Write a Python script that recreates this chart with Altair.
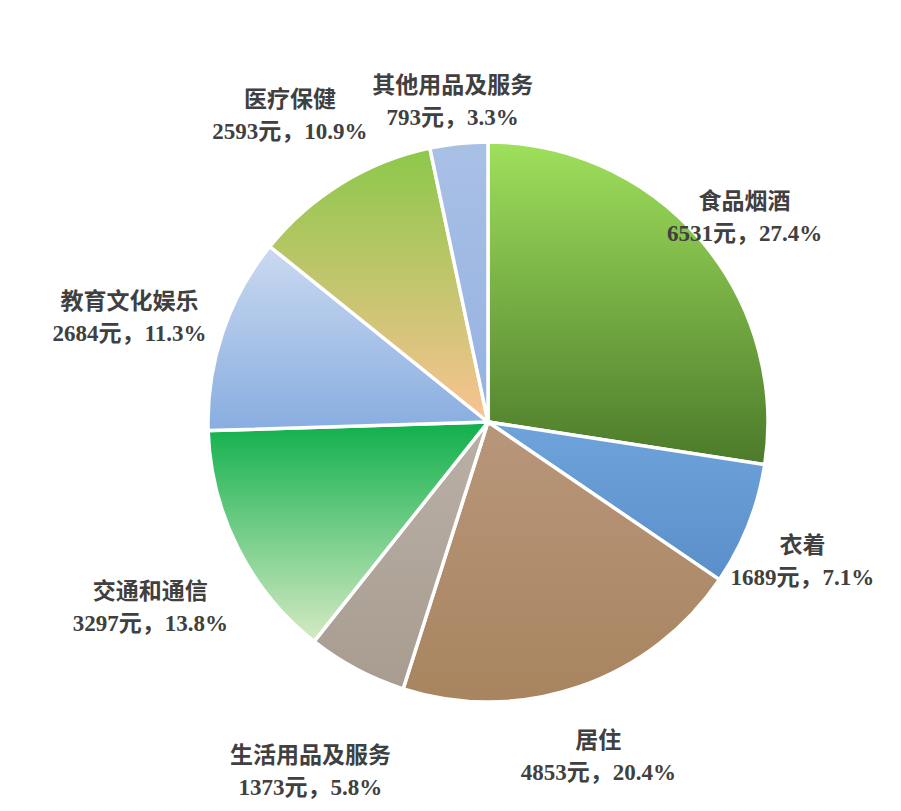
import altair as alt
import pandas as pd

categories = ["食品烟酒", "衣着", "居住", "生活用品及服务", "交通和通信", "教育文化娱乐", "医疗保健", "其他用品及服务"]
values = [6531, 1689, 4853, 1373, 3297, 2684, 2593, 793]
percents = ["27.4%", "7.1%", "20.4%", "5.8%", "13.8%", "11.3%", "10.9%", "3.3%"]

# fill gradients (top -> bottom) per slice
fills = [
    ["#9fe05c", "#4c7a2a"],
    ["#6fa3da", "#5a8fcb"],
    ["#b8967a", "#a8845f"],
    ["#bab0a6", "#a89c90"],
    ["#10b04c", "#d6eac4"],
    ["#cad9f0", "#88ade0"],
    ["#8cc84a", "#fac392"],
    ["#a9c0e6", "#94b2e0"],
]

df = pd.DataFrame({"cat": categories, "value": values, "pct": percents})
df["idx"] = range(len(df))
df["end"] = df["value"].cumsum()
df["start"] = df["end"] - df["value"]
df["mid"] = (df["start"] + df["end"]) / 2
df["label"] = df["cat"] + "\n" + df["value"].astype(str) + "元，" + df["pct"]
total = int(df["value"].sum())

CX, CY, R = 480, 414, 280
theta_scale = alt.Scale(domain=[0, total], range=[0, 6.283185307179586])

base = alt.Chart(df)
layers = []
for i, (c0, c1) in enumerate(fills):
    grad = alt.LinearGradient(
        gradient="linear",
        stops=[alt.GradientStop(offset=0, color=c0), alt.GradientStop(offset=1, color=c1)],
        x1=0, x2=0, y1=0, y2=1,
    )
    layers.append(
        base.transform_filter(alt.datum.idx == i)
        .mark_arc(fill=grad, stroke="white", strokeWidth=3.5, outerRadius=R)
        .encode(
            theta=alt.Theta("start:Q", scale=theta_scale),
            theta2="end:Q",
            x=alt.value(CX),
            y=alt.value(CY),
        )
    )

text_style = dict(
    lineBreak="\n",
    font="Liberation Serif, Noto Sans CJK SC, serif",
    fontSize=23,
    fontWeight="bold",
    color="#404040",
    align="center",
    baseline="middle",
    lineHeight=32,
)
text_enc = dict(
    theta=alt.Theta("mid:Q", scale=theta_scale),
    text="label:N",
    x=alt.value(CX),
    y=alt.value(CY),
)
left_side = (alt.datum.mid > total * 0.52) & (alt.datum.mid < total * 0.95)
text_left = base.transform_filter(left_side).mark_text(radius=378, **text_style).encode(**text_enc)
text_right = base.transform_filter(~left_side).mark_text(radius=338, **text_style).encode(**text_enc)

chart = alt.layer(*layers, text_left, text_right).properties(
    width=885, height=795, padding=0, autosize="none"
).configure_view(stroke=None)

chart.save("out.html", embed_options={"renderer": "svg", "actions": False})
